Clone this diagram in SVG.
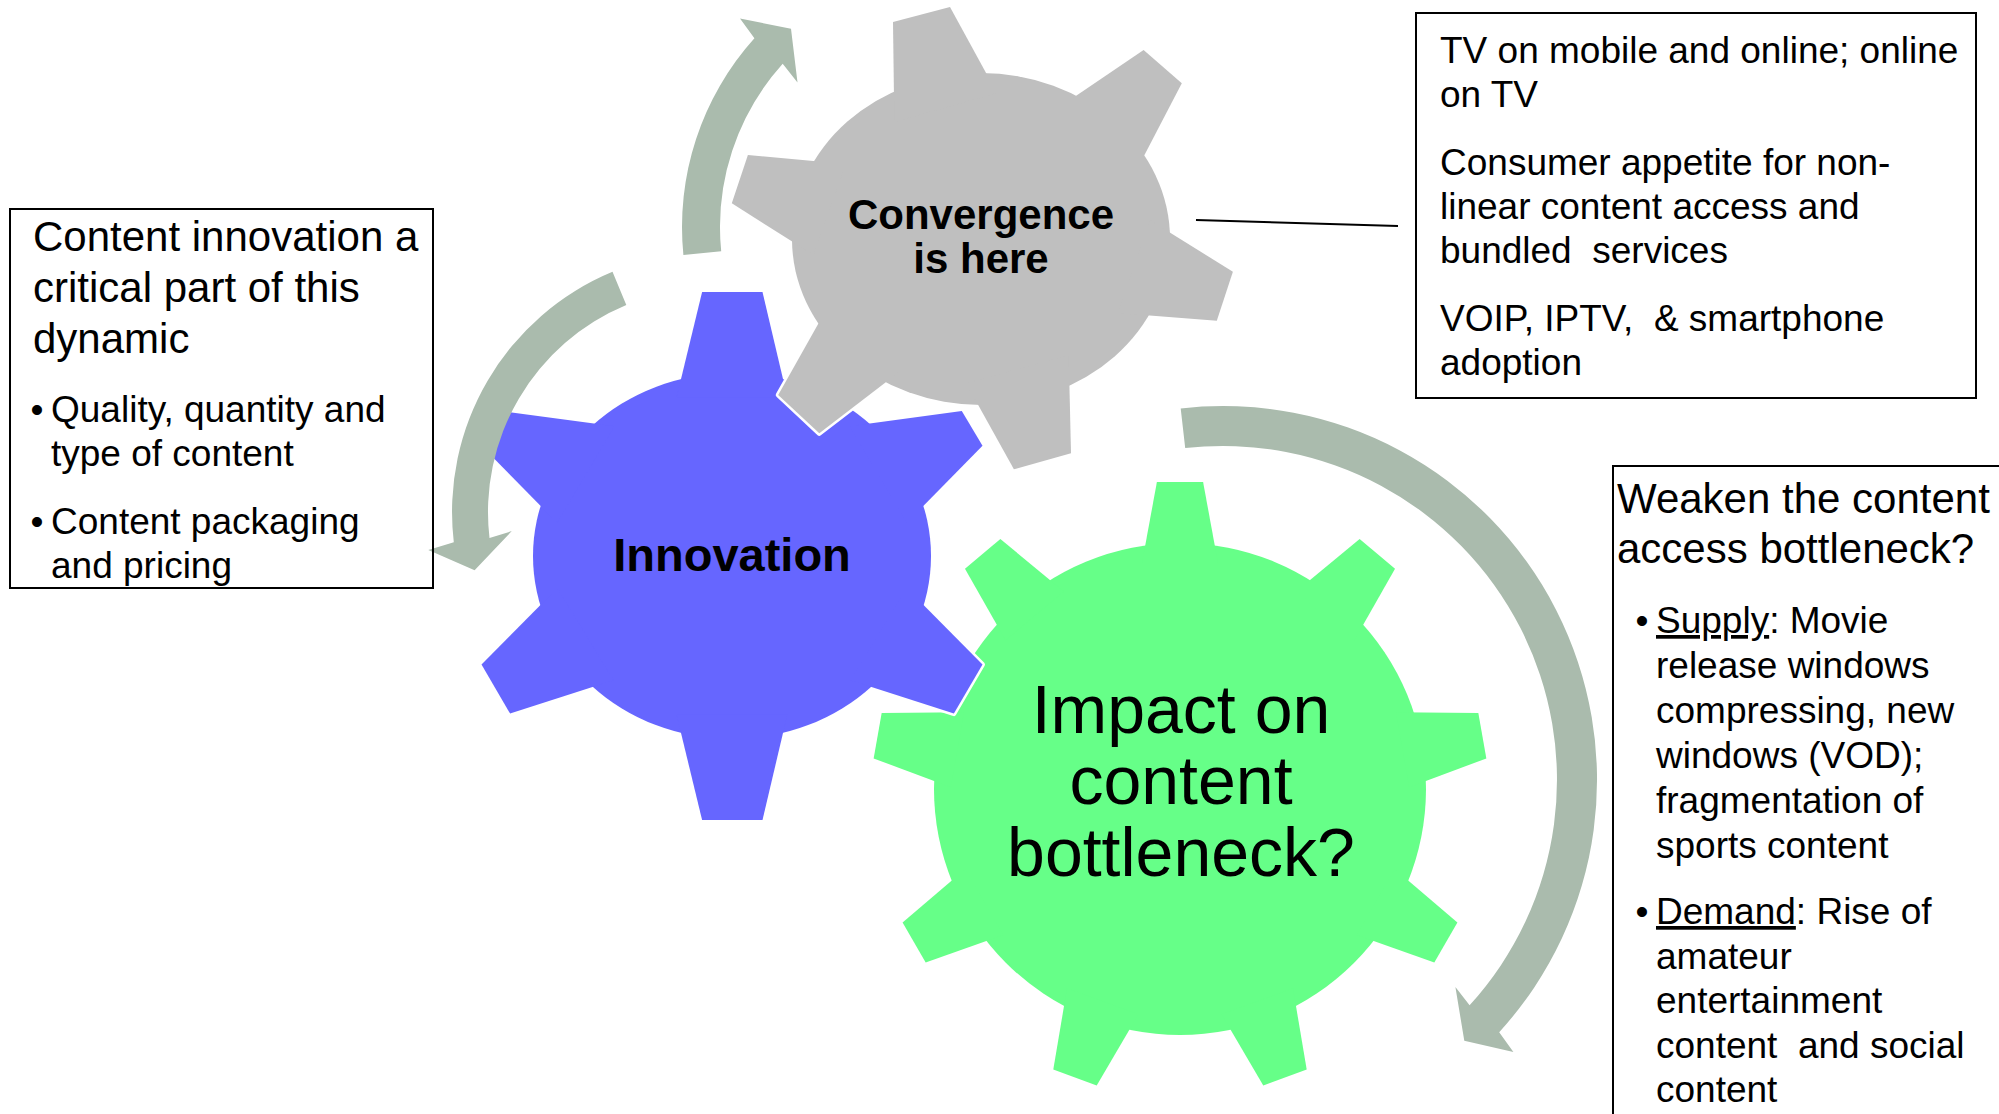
<svg xmlns="http://www.w3.org/2000/svg" width="1999" height="1114" viewBox="0 0 1999 1114">
  <style>
    text { font-family: "Liberation Sans", Arial, Helvetica, sans-serif; fill: #000; }
    .box { fill: none; stroke: #000; stroke-width: 2; }
    .halo { fill: #fff; stroke: #fff; stroke-width: 5; stroke-linejoin: round; }
    .gray { fill: #BFBFBF; }
    .blue { fill: #6666FF; }
    .green { fill: #66FF88; }
    .arrow { fill: #AABBAD; }
    .link { stroke: #000; stroke-width: 2; fill: none; }
    .h42 { font-size: 42px; }
    .b37 { font-size: 37px; }
    .bold { font-weight: bold; }
  </style>
  <defs>
    <!-- gear outlines: body plus teeth, filled by whoever uses them -->
    <g id="grayShape">
      <ellipse cx="981" cy="239" rx="189" ry="166"/>
      <polygon points="894.3,122 893,22 950,7 997,93"/>
      <polygon points="1062.9,104.7 1143.6,50 1181.8,83.3 1136.4,170.5"/>
      <polygon points="1149.7,220.1 1232.9,271.7 1216.8,320.7 1117.6,313.1"/>
      <polygon points="1068.7,355 1071,453.3 1013.9,469.3 966.1,383.2"/>
      <polygon points="899.8,371.5 819.3,433.3 778.2,395 828,306.5"/>
      <polygon points="845.9,164 747.9,155 731.8,203.3 813.6,255.1"/>
    </g>
    <g id="blueShape">
      <ellipse cx="732" cy="556" rx="199" ry="183"/>
      <polygon points="676.6,397.2 702.1,292.1 762.5,292.1 787.3,397.2"/>
      <polygon points="676.6,714.8 702.1,820 762.5,820 787.3,714.8"/>
      <polygon points="849.5,426.3 961.8,411.1 982.5,445.7 906.8,522.8"/>
      <polygon points="906.7,587.9 982.5,664.6 953.9,713.6 850.5,680.2"/>
      <polygon points="557.3,587.9 481.5,664.6 510.1,713.6 613.5,680.2"/>
      <polygon points="614.5,426.3 502.2,411.1 481.5,445.7 557.2,522.8"/>
    </g>
    <polygon id="greenTooth" points="1142,563 1156.9,482 1203.1,482 1218,563"/>
    <g id="greenShape">
      <circle cx="1180" cy="789" r="246"/>
      <use href="#greenTooth"/>
      <use href="#greenTooth" transform="rotate(40 1180 789)"/>
      <use href="#greenTooth" transform="rotate(80 1180 789)"/>
      <use href="#greenTooth" transform="rotate(120 1180 789)"/>
      <use href="#greenTooth" transform="rotate(160 1180 789)"/>
      <use href="#greenTooth" transform="rotate(200 1180 789)"/>
      <use href="#greenTooth" transform="rotate(240 1180 789)"/>
      <use href="#greenTooth" transform="rotate(280 1180 789)"/>
      <use href="#greenTooth" transform="rotate(320 1180 789)"/>
    </g>
  </defs>

  <rect width="1999" height="1114" fill="#fff"/>

  <!-- gears, back to front -->
  <g id="gear-impact">
    <use href="#greenShape" class="halo"/>
    <use href="#greenShape" class="green"/>
    <text x="1181" y="733" font-size="68" text-anchor="middle">Impact on</text>
    <text x="1181" y="804" font-size="68" text-anchor="middle">content</text>
    <text x="1181" y="876" font-size="68" text-anchor="middle">bottleneck?</text>
  </g>

  <g id="gear-innovation">
    <use href="#blueShape" class="halo"/>
    <use href="#blueShape" class="blue"/>
    <text x="732" y="571" font-size="47" class="bold" text-anchor="middle">Innovation</text>
  </g>

  <g id="gear-convergence">
    <use href="#grayShape" class="halo"/>
    <use href="#grayShape" class="gray"/>
    <text x="981" y="229" font-size="42" class="bold" text-anchor="middle">Convergence</text>
    <text x="981" y="273" font-size="42" class="bold" text-anchor="middle">is here</text>
  </g>

  <!-- connectors: circular arrows and the callout line -->
  <g id="connectors">
    <path class="arrow" d="M683.4,255 A282,282 0 0 1 754.4,38.3 L740,18.5 L791,28.7 L797.5,82.5 L782.7,63.7 A244,244 0 0 0 721.2,251.2 Z"/>
    <path class="arrow" d="M612.5,271.8 A260,260 0 0 0 453.8,542.3 L428.3,549.9 L474.6,570.2 L511.8,531.1 L489.5,538.1 A224,224 0 0 1 626.3,305.1 Z"/>
    <path class="arrow" d="M1180.7,408.4 A374,374 0 0 1 1499.2,1032.2 L1513.4,1051.9 L1464.3,1040.7 L1455.4,987.1 L1469.6,1005.2 A334,334 0 0 0 1185.2,448.1 Z"/>
    <line class="link" x1="1196" y1="220" x2="1398" y2="226"/>
  </g>

  <!-- text boxes -->
  <g id="box-content-innovation">
    <rect class="box" x="10" y="209" width="423" height="379"/>
    <text class="h42" x="33" y="251">Content innovation a</text>
    <text class="h42" x="33" y="302">critical part of this</text>
    <text class="h42" x="33" y="353">dynamic</text>
    <text class="b37" x="30.5" y="422">•</text>
    <text class="b37" x="51" y="422">Quality, quantity and</text>
    <text class="b37" x="51" y="466">type of content</text>
    <text class="b37" x="30.5" y="534">•</text>
    <text class="b37" x="51" y="534">Content packaging</text>
    <text class="b37" x="51" y="578">and pricing</text>
  </g>

  <g id="box-convergence-drivers">
    <rect class="box" x="1416" y="13" width="560" height="385"/>
    <text class="b37" x="1440" y="63">TV on mobile and online; online</text>
    <text class="b37" x="1440" y="107">on TV</text>
    <text class="b37" x="1440" y="175">Consumer appetite for non-</text>
    <text class="b37" x="1440" y="219">linear content access and</text>
    <text class="b37" x="1440" y="263" xml:space="preserve">bundled  services</text>
    <text class="b37" x="1440" y="331" xml:space="preserve">VOIP, IPTV,  &amp; smartphone</text>
    <text class="b37" x="1440" y="375">adoption</text>
  </g>

  <g id="box-bottleneck">
    <rect class="box" x="1613" y="466" width="500" height="800"/>
    <text class="h42" x="1617" y="513">Weaken the content</text>
    <text class="h42" x="1617" y="563">access bottleneck?</text>
    <text class="b37" x="1635.5" y="633">•</text>
    <text class="b37" x="1656" y="633"><tspan text-decoration="underline">Supply</tspan>: Movie</text>
    <text class="b37" x="1656" y="678">release windows</text>
    <text class="b37" x="1656" y="723">compressing, new</text>
    <text class="b37" x="1656" y="768">windows (VOD);</text>
    <text class="b37" x="1656" y="813">fragmentation of</text>
    <text class="b37" x="1656" y="858">sports content</text>
    <text class="b37" x="1635.5" y="924">•</text>
    <text class="b37" x="1656" y="924"><tspan text-decoration="underline">Demand</tspan>: Rise of</text>
    <text class="b37" x="1656" y="969">amateur</text>
    <text class="b37" x="1656" y="1013">entertainment</text>
    <text class="b37" x="1656" y="1058" xml:space="preserve">content  and social</text>
    <text class="b37" x="1656" y="1102">content</text>
  </g>
</svg>
